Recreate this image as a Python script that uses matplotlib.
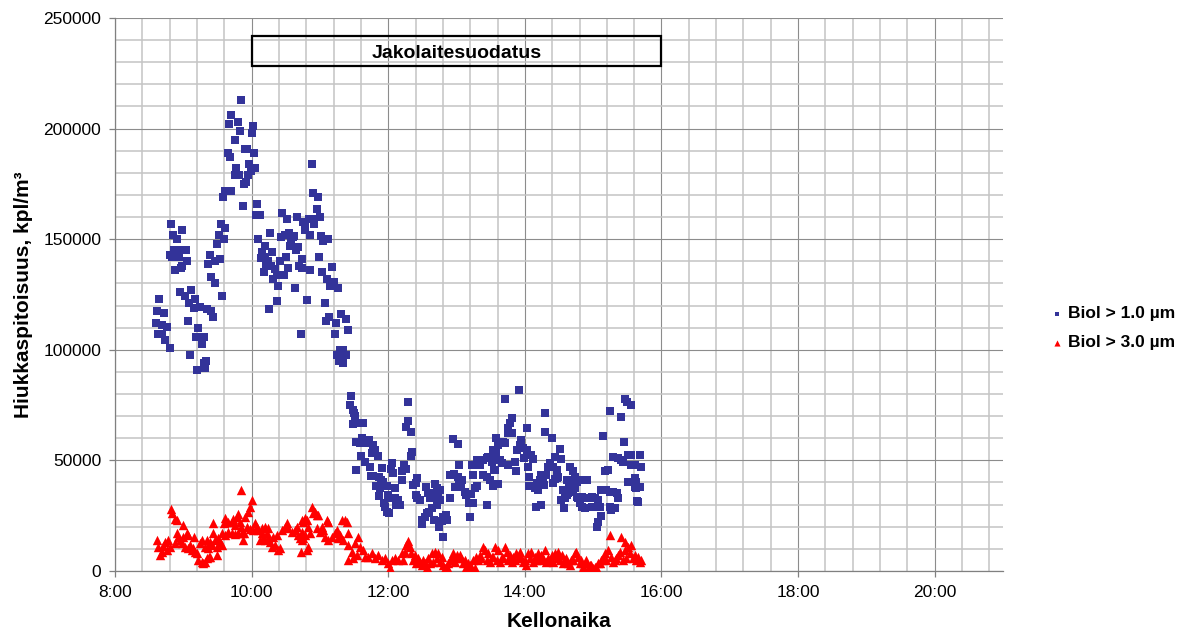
import numpy as np
import matplotlib
matplotlib.use("Agg")
import matplotlib.pyplot as plt
from matplotlib.patches import Rectangle
from matplotlib.ticker import MultipleLocator, FuncFormatter

plt.rcParams['font.family'] = ['Liberation Sans', 'DejaVu Sans']

# minutes after 8:00 and concentration in thousands of particles/m3
blue_min = [111, 102, 100, 108, 110, 121, 120, 105, 114, 116, 122, 99, 101, 118, 123, 119, 106, 105, 109, 117,
            115, 113, 97, 99.5, 102, 95, 112, 125, 124, 49, 59, 93, 97, 51, 91, 54, 96, 125.5, 90, 52,
            55, 62, 48, 50, 56, 83, 63, 88, 92, 82, 59, 58, 53, 84, 88, 57, 67, 61.5, 70, 94,
            39, 65, 69, 75, 81, 84.5, 86, 37, 43, 64, 36, 41, 46, 73, 37.5, 41, 71, 78, 44, 76,
            48, 66, 79.6, 77.9, 78.8, 72,
            172.7, 173.5, 178, 177, 127, 147, 151, 160, 165, 167, 170, 173, 175, 180, 171, 167, 136, 146, 149, 153,
            156, 157.5, 155, 180.6, 183, 187, 132, 129, 128, 131.5, 138, 154, 161, 159, 133, 137, 134, 150, 145, 164,
            162, 164, 179, 140.5, 138.5, 142, 148, 151.6, 131, 171.5, 191, 181.5, 186, 189, 192, 196, 143, 158, 142, 135,
            169, 184, 188, 185, 194, 198.7, 203, 204.6, 163, 193, 197.5, 200, 195, 200, 203, 197, 200,
            207, 206, 209, 210, 211, 209, 213.6, 218, 257.5, 257, 256, 259.6, 212, 216.6, 215, 221, 223, 227, 228, 226,
            231, 261, 259.6, 216, 219.5, 224, 211.6, 225, 234.7, 243.5, 242, 244.4, 253.7, 256, 251.7, 227, 232, 234, 235.6, 252.5,
            229, 232.7, 238.5, 245.8, 265, 264, 262, 232, 240, 241.4, 245.8, 248.7, 246.7, 236.5, 237, 238.5, 241, 250, 264, 265.4,
            267.8, 273, 275, 276.6, 278, 281, 282.4, 285.3, 283.3, 285.3, 282.4, 278, 276, 274, 272, 270, 269.3, 280, 288, 290.6,
            292, 287, 285, 287.7, 297, 301.4, 294, 298, 301.4, 304.4, 302, 294, 299, 303.5, 307, 308.7, 312.5, 311, 314, 311.7,
            316, 317.6, 302.3, 313.7, 314.6, 318, 320.5, 323, 326.4, 327.8, 330.7, 332.7, 335, 331.6, 334.3, 323.5, 326.4, 329, 331.6, 332.7,
            326.4,
            354.7, 342.4, 348.3, 346.8, 345.3, 344.8, 348.8, 361.5, 377.5, 378, 383.4, 341, 342.4, 336, 357, 355.6, 353.5, 358.5, 361.5, 365.8,
            367.3, 359.3, 338, 339.6, 345.3, 351.2, 351.8, 336, 333.6, 363, 363.5, 390.7, 386.3, 382, 392, 380.4, 384.8, 387.8, 389.2, 386.3,
            374.6, 373, 371, 376, 379, 377, 364, 368.7, 371.6, 384.8, 388.6, 369.4, 374.6, 399.5, 402.4, 404, 396.6, 398.6, 401.5, 405.4,
            408.3, 404, 393.6, 396.6, 392, 395, 398, 402, 405.4, 406.7, 410.3, 408.3, 410.3, 412.7, 415.6, 418.6, 421.5, 424.4, 418.6, 426,
            415, 394.5, 426.7, 424.4, 423, 428.7, 434.6, 444.8, 447.8, 450, 453.6, 447, 427.3, 431.7, 434.6, 437.5, 440.5, 441.9, 430.2, 433.1,
            437.5, 441.9, 446.3, 444.8, 450.7, 453.6, 460.9, 453.6, 456.5, 462.4, 450.7, 456.5, 458, 458, 460.9, 456.5, 459.5, 434.6, 439, 436,
            458.3]
blue_k = [213, 206, 202, 203, 199, 201, 198, 195, 191, 191, 189, 189, 187, 184, 182, 181, 182, 179, 179, 179,
          176, 175, 172, 172, 172, 169, 165, 166, 161, 157, 154, 157, 155, 152, 152, 150, 150, 150, 148, 145,
          145, 145, 143, 142, 142, 143, 140, 140, 141, 139, 138, 137, 136, 133, 130, 126, 127, 124.5, 123, 124.5,
          123, 121, 119, 119.5, 118.5, 117.5, 115, 117.7, 116.8, 113, 112, 111, 110.5, 110, 107, 107, 106, 106, 104.5, 102.6,
          101, 97.5, 95, 94, 91.6, 90.7,
          184, 171, 169, 163.5, 161, 162, 159, 160, 158, 157.5, 159, 159, 157, 160, 152, 154, 153, 151, 152, 153,
          151, 151.5, 150, 151.5, 149, 150, 147, 144, 141.5, 142, 144, 147, 146.6, 145, 139, 138, 140, 142, 140, 141,
          138, 137, 142, 136.5, 132, 134, 134, 137, 135, 136, 137.5, 135, 132, 129, 130.5, 128, 129, 128, 122, 118.5,
          122.5, 121, 115, 113, 112, 116, 114, 109, 107, 107, 100, 100, 97.7, 97.7, 97.7, 95, 94,
          79, 75, 72.8, 71.3, 70, 66.5, 66.8, 67, 76.5, 68, 65, 62.7, 58.5, 60, 57.7, 58, 59, 57, 54.7, 53.5,
          52, 54, 52, 52, 49.4, 47, 45.7, 43, 46.4, 49, 46, 44.4, 48, 46, 45, 43, 42.6, 41, 40.4, 41,
          38.4, 37.4, 38.4, 37.7, 42, 39.6, 38.9, 34, 34.4, 32.9, 32.9, 32, 29.8, 30.9, 28.8, 26.8, 26, 29.8, 34.4, 32.9,
          32, 37.8, 35.4, 32.9, 35.1, 39.3, 37.7, 36.6, 32.9, 32, 29.8, 28.3, 26.8, 26, 24.5, 23, 21.2, 23, 24.5, 25.3,
          23, 22.7, 20, 15.2, 59.5, 57.4, 43.4, 43.9, 42.6, 41, 40.4, 32.9, 37.8, 38, 35.9, 34.4, 34.8, 30.9, 30.9, 24.5,
          37.4, 38.4, 48, 48, 43.4, 50, 48, 50, 51, 51.7, 49.4, 52.4, 54, 54.7, 60, 43.4, 42.6, 41, 38.4, 45.7,
          29.8,
          81.8, 77.6, 69, 66.8, 64.5, 62.5, 62.2, 64.5, 71.6, 62.7, 60.3, 58.5, 57.7, 57, 59.2, 57, 54.7, 55.5, 54.7, 52.4,
          50.6, 51, 50.2, 48.7, 48, 49.4, 45.3, 39.3, 45.7, 47.2, 42.6, 55, 51.4, 49, 50.6, 46.9, 46.9, 45.7, 42.6, 41.4,
          43.4, 41, 39.6, 40.4, 43.4, 38.9, 38.4, 37.4, 36.6, 39.6, 41.9, 29, 29.8, 47.2, 45.3, 42.6, 41, 38, 38.9, 40.4,
          41, 37.4, 36.6, 34.4, 32, 32.9, 35.1, 35.9, 33.6, 32.9, 33.6, 30.6, 29, 28.3, 32.9, 33.6, 32.9, 32, 29, 29,
          41, 28.3, 24.9, 22.3, 20, 61, 72.3, 69.8, 77.8, 76.5, 75, 58.5, 36.6, 36.6, 35.9, 35.9, 35.1, 32.9, 45, 45.7,
          51.7, 51, 49.4, 50.2, 52.4, 52.4, 52.4, 48, 48, 47.2, 40.4, 41.9, 40.4, 37.4, 38.1, 38.1, 31.3, 29, 28.3, 27.6,
          31.8]

red_min = [111, 120, 118.5, 117, 114, 49, 50.3, 52.7, 54, 59.4, 86.3, 96.6, 96, 99.5, 102.4, 103.8, 106.8, 108.3, 105.4, 109.7,
           123, 124.4, 121.4, 128.8, 131.7, 134.6, 133.2, 118.5, 115.6, 113.5, 36.6, 38, 39.5, 41, 43.9, 46.8, 42.4, 48.3, 45.4, 54,
           55.5, 57, 52.7, 58.5, 60, 62.9, 64.3, 61.4, 65.8, 67.3, 64.3, 68.7, 70.2, 71.6, 69.6, 73, 76, 77.5, 79, 80.5,
           83.4, 89.3, 82.5, 74.6, 76, 80.5, 83.4, 84.8, 79, 82, 87.8, 90.7, 92.2, 93.7, 89.3, 86.3, 94.2, 96.6, 99.5, 102.4,
           105.4, 108.3, 111.2, 112.6, 110.6, 125.8, 128.8, 130.2, 127.3, 131.7, 134.6, 136.1, 137.6, 140.5, 143.4, 144.9, 139, 142, 146.3, 149.3,
           150.7, 152.2, 155.1, 158, 159.5, 161, 162.4, 163.9, 165.4, 166.8, 163.9, 163.3, 168.3, 169.7, 163.9, 166.8, 165.4, 168.3, 172.7, 175.6,
           177.1, 174.1, 178.5, 169.7, 171.2, 177.1, 180, 181.5, 182.9, 185.9, 187.3, 184.4, 187.3, 190.2, 193.2, 194.6, 196.1, 197.5, 199, 201.9,
           203.4, 200.5, 204.8, 204.8, 210.7, 213.6, 215.1, 207.8, 204.8, 209.2, 212.2, 218, 219.5, 222.4, 225.4, 228.3, 231.2, 234.2, 237, 240,
           243, 245.8, 248.7, 241.4,
           257.5, 256, 259, 254.6, 260.4, 263.4, 251.7, 261.9, 266.3, 267.8, 269.2, 272.1, 275.1, 278, 280.9, 283.9, 282.4, 286.8, 285.3, 288.2,
           289.7, 292.6, 295.6, 297, 300, 302.9, 304.3, 307.3, 310.2, 313.1, 316, 314.6, 317.5, 320.4, 323.4, 324.8, 327.8, 330.7, 333.6, 336.5,
           335.1, 339.5, 342.4, 343.9, 346.8, 349.7, 352.6, 355.6, 357, 360, 361.4, 362.9, 365.8, 368.7, 371.7, 374.6, 377.5, 380.4, 383.4, 386.3,
           389.2, 392.2, 395.1, 398, 400.9, 403.9, 405.3, 406.8, 409.7, 412.6, 415.6, 414.1, 418.5, 421.4, 424.3, 427.3, 430.2, 433.1, 434.6, 436,
           439, 441.9, 443.4, 444.8, 447.8, 450.7, 453.6, 456.5, 459.4, 462.4, 452.1, 449.2, 447.8,
           253.1, 264.8, 270.7, 273.6, 276.5, 279.5, 291.2, 294.1, 298.5, 301.4, 305.8, 308.7, 311.7, 319, 321.9, 326.3, 329.2, 332.2, 338, 340.9,
           345.3, 348.3, 351.2, 354.1, 358.5, 364.3, 367.3, 370.2, 373.1, 376.1, 379, 381.9, 384.8, 387.8, 390.7, 393.6, 396.5, 399.5, 402.4, 408.3,
           411.2, 417, 420, 422.9, 425.8, 428.7, 431.7, 437.5, 440.4, 446.3, 455, 458, 460.9]
red_k = [36.6, 32, 29, 26.8, 24.5, 27.9, 26, 23.4, 23, 21, 21.8, 23.8, 21.6, 22.3, 22.3, 23.4, 24.5, 25.6, 20.8, 22.3,
         21.6, 20, 18.5, 19.3, 20, 19.3, 17, 18.9, 20, 17.3, 14, 11, 7.2, 8.7, 13.2, 14, 11.3, 11, 9.5, 17,
         15.5, 14, 12.5, 12.5, 15.5, 17, 16.3, 11, 11.8, 9.5, 10.3, 10.3, 8.7, 8, 15.5, 5, 4.2, 3.5, 4.2, 5.7,
         6.5, 7.2, 6.5, 12.5, 14, 14, 13.2, 11.8, 11, 10.3, 14, 14.8, 13.2, 11.8, 11, 17.3, 17, 16.3, 17.8, 17,
         16.7, 17, 17, 14, 20, 18.5, 17, 14.8, 14, 14, 14.8, 13.2, 11, 11.8, 9.5, 10.3, 15.5, 16.3, 18.5, 20,
         21.6, 19.3, 17.8, 18.5, 20, 16.3, 14.8, 14, 14.8, 16.3, 17.8, 8.7, 9.5, 11, 23, 23.8, 22.3, 23, 29, 26.8,
         25.3, 26, 25.3, 20, 17, 19.3, 17.8, 20, 18.5, 23, 22.3, 15.5, 14, 15.5, 17, 18.5, 14.8, 16.3, 23, 23,
         22.3, 14, 17, 11.8, 12.5, 15.5, 11, 8.7, 5, 5.7, 7.2, 9.5, 6.5, 6.5, 8, 5.7, 7.2, 5, 5.7, 3.5,
         5, 5.7, 5, 1.2,
         13.7, 11.8, 11, 8.7, 8, 7.2, 8, 5, 5.7, 4.2, 2.7, 3.5, 5.7, 8, 8.7, 8, 5.7, 6.5, 4.2, 2.7,
         1.2, 3.5, 5.7, 8, 7.2, 7.2, 5.7, 5, 3.5, 2, 1.2, 5, 6.5, 7.2, 11, 9.5, 8, 6.5, 11, 9.5,
         5, 6.5, 11, 8.7, 7.2, 6.5, 8, 8.7, 6.5, 5, 2.7, 8, 8.7, 6.5, 8, 7.2, 9.5, 5.7, 7.2, 8,
         8.7, 7.2, 5, 3.5, 5, 8, 8.7, 6.5, 5, 3.5, 1.2, 5, 2.7, 2, 3.5, 5, 8, 9.5, 16.3, 6.5,
         5, 7.2, 8.7, 15.5, 13.3, 11, 11.8, 7.2, 6.5, 5, 8, 5.7, 9.5,
         5, 3.5, 5, 2, 3.5, 4.2, 2, 5, 4.2, 5.7, 3.5, 2, 2.7, 5, 5.7, 5, 4.2, 6.5, 4.2, 5.7,
         5, 4.2, 5, 5.7, 4.2, 5.7, 4.2, 5, 5, 5.7, 4.2, 5, 4.2, 5.7, 5, 3.5, 5.7, 2.7, 5, 3.5,
         2, 2.7, 1.2, 2, 3.5, 5.7, 5, 4.2, 5.7, 5, 5.7, 5, 4.2]

series_labels = ['Biol > 1.0 µm', 'Biol > 3.0 µm']
box_label = 'Jakolaitesuodatus'

bx = 8 + np.array(blue_min) / 60.0
by = np.array(blue_k) * 1000
rx = 8 + np.array(red_min) / 60.0
ry = np.array(red_k) * 1000

fig = plt.figure(figsize=(11.86, 6.30), dpi=100)
ax = fig.add_axes([0.097, 0.0937, 0.7487, 0.8777])

ax.scatter(bx, by, marker='s', s=26, color='#333399', linewidths=0, zorder=3, label=series_labels[0])
ax.scatter(rx, ry, marker='^', s=46, color='#ff0000', linewidths=0, zorder=3, label=series_labels[1])

ax.set_xlim(8, 21)
ax.set_ylim(0, 250000)
ax.xaxis.set_major_locator(MultipleLocator(2))
ax.xaxis.set_minor_locator(MultipleLocator(0.4))
ax.yaxis.set_major_locator(MultipleLocator(50000))
ax.yaxis.set_minor_locator(MultipleLocator(10000))
ax.xaxis.set_major_formatter(FuncFormatter(lambda v, p: '%d:00' % int(round(v))))
ax.yaxis.set_major_formatter(FuncFormatter(lambda v, p: '%d' % int(v)))

ax.grid(which='minor', color='#c4c4c4', linewidth=1.1, zorder=0)
ax.grid(which='major', color='#8c8c8c', linewidth=0.8, zorder=0)
ax.set_axisbelow(True)

for side in ['top', 'right']:
    ax.spines[side].set_visible(False)
for side in ['left', 'bottom']:
    ax.spines[side].set_color('#808080')
    ax.spines[side].set_linewidth(0.9)

ax.tick_params(which='major', length=4, width=0.9, color='#808080', labelsize=12.5, pad=6)
ax.tick_params(which='minor', length=0)

ax.set_xlabel('Kellonaika', fontsize=15, fontweight='bold', labelpad=9)
ax.set_ylabel('Hiukkaspitoisuus, kpl/m³', fontsize=15, fontweight='bold', labelpad=7)

ax.add_patch(Rectangle((10, 228300), 6, 13600, fill=False, edgecolor='black', linewidth=1.6, zorder=4))
ax.text(13, 233800, box_label, ha='center', va='center', fontsize=14, fontweight='bold', zorder=5)

leg = ax.legend(loc='center left', bbox_to_anchor=(1.034, 0.439), frameon=False, markerscale=0.65,
                prop={'weight': 'bold', 'size': 12.5}, handletextpad=0.1, labelspacing=0.8,
                handlelength=1.0)

fig.savefig('out.png', dpi=100)
